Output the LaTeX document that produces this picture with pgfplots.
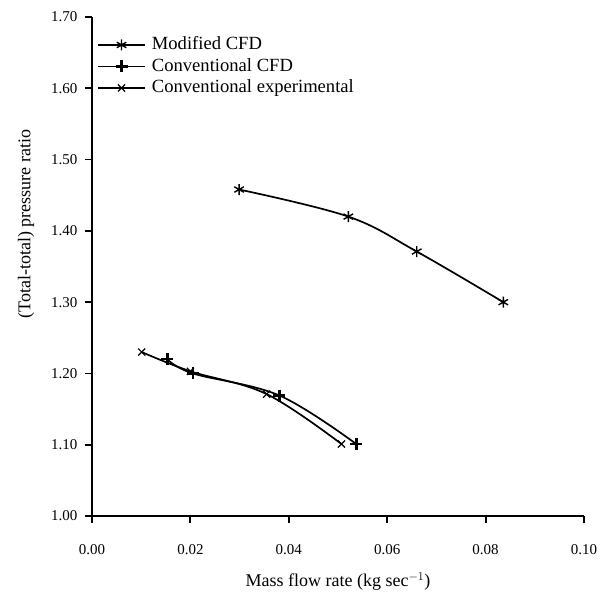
\documentclass[border=0pt]{standalone}
\usepackage{fontspec}
\setmainfont{Liberation Serif}
\usepackage{pgfplots}
\pgfplotsset{compat=1.18}
\begin{document}
\begin{tikzpicture}
\path[use as bounding box] (-92pt,-76pt) rectangle (516pt,516pt);
\begin{axis}[
scale only axis,
width=492pt,
height=499pt,
at={(0,0)},
anchor=south west,
xmin=0, xmax=0.1,
ymin=1, ymax=1.7,
axis x line=bottom,
axis y line=left,
axis line style={-, line width=1.8pt},
tick align=outside,
major tick length=7pt,
tick style={line width=1.8pt, black},
xtick={0,0.02,0.04,0.06,0.08,0.1},
xticklabels={0.00,0.02,0.04,0.06,0.08,0.10},
ytick={1,1.1,1.2,1.3,1.4,1.5,1.6,1.7},
yticklabels={1.00,1.10,1.20,1.30,1.40,1.50,1.60,1.70},
/pgf/number format/assume math mode=true,
ticklabel style={font=\fontsize{15}{17}\selectfont},
xticklabel style={yshift=-18pt},
yticklabel style={xshift=-4pt},
xlabel={Mass flow rate (kg sec\textsuperscript{$-1$})},
ylabel={(Total-total) pressure ratio},
label style={font=\fontsize{18}{20}\selectfont},
xlabel style={at={(axis description cs:0.5,-0.142)}, anchor=base},
ylabel style={at={(axis description cs:-0.134,0.585)}, anchor=center},
legend style={at={(axis description cs:0,1)}, anchor=north west,
  xshift=2pt, yshift=-15pt, draw=none, fill=none, column sep=5pt,
  font=\fontsize{18.6}{21}\selectfont,
  nodes={inner sep=1pt, text height=14.5pt, text depth=5pt}},
legend cell align=left,
legend image code/.code={\draw[mark repeat=2,mark phase=2] plot coordinates {(0pt,0pt) (23.5pt,0pt) (47pt,0pt)};},
clip=false
]
\addplot[black, line width=1.7pt, smooth, tension=0.6, mark=asterisk, mark size=5.5pt,
  mark options={line width=1.4pt}] coordinates {
(0.0299,1.458) (0.0521,1.420) (0.0660,1.371) (0.0836,1.300)
};
\addlegendentry{Modified CFD}
\addplot[black, line width=1.7pt, smooth, tension=0.6, mark=+, mark size=6pt,
  mark options={line width=2.6pt}] coordinates {
(0.0153,1.220) (0.0205,1.200) (0.0381,1.169) (0.0537,1.101)
};
\addlegendentry{Conventional CFD}
\addplot[black, line width=1.7pt, smooth, tension=0.6, mark=x, mark size=5pt,
  mark options={line width=1.2pt}] coordinates {
(0.0101,1.230) (0.0200,1.203) (0.0355,1.171) (0.0507,1.101)
};
\addlegendentry{Conventional experimental}
\end{axis}
\end{tikzpicture}
\end{document}
